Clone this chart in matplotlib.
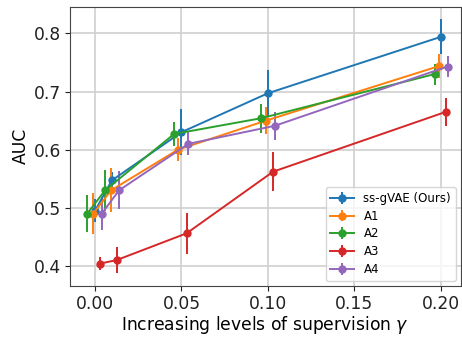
import matplotlib
matplotlib.use("Agg")
import matplotlib.pyplot as plt

labels = ["ss-gVAE (Ours)", "A1", "A2", "A3", "A4"]
colors = ["#1f77b4", "#ff7f0e", "#2ca02c", "#d62728", "#9467bd"]

x_blue = [0.0, 0.0097, 0.050, 0.100, 0.200]
y_blue = [0.495, 0.547, 0.630, 0.697, 0.794]
e_blue = [0.020, 0.015, 0.040, 0.040, 0.030]

x_orange = [-0.001, 0.0093, 0.048, 0.099, 0.1993]
y_orange = [0.490, 0.530, 0.600, 0.650, 0.744]
e_orange = [0.035, 0.038, 0.020, 0.023, 0.020]

x_green = [-0.0045, 0.0058, 0.0458, 0.096, 0.1965]
y_green = [0.490, 0.530, 0.627, 0.654, 0.730]
e_green = [0.032, 0.035, 0.021, 0.025, 0.018]

x_red = [0.003, 0.0126, 0.053, 0.103, 0.203]
y_red = [0.404, 0.410, 0.456, 0.562, 0.665]
e_red = [0.012, 0.023, 0.035, 0.034, 0.024]

x_purple = [0.0039, 0.0139, 0.054, 0.104, 0.204]
y_purple = [0.490, 0.530, 0.610, 0.641, 0.743]
e_purple = [0.028, 0.033, 0.020, 0.024, 0.018]

xs = [x_blue, x_orange, x_green, x_red, x_purple]
ys = [y_blue, y_orange, y_green, y_red, y_purple]
es = [e_blue, e_orange, e_green, e_red, e_purple]

fig = plt.figure(figsize=(4.62, 3.37), dpi=100)
ax = fig.add_axes([70/462, 1-285.6/337, 390.5/462, (285.6-6.7)/337])

for x, y, e, lab, c in zip(xs, ys, es, labels, colors):
    ax.errorbar(x, y, yerr=e, marker="o", markersize=5, color=c, lw=1.4,
                elinewidth=1.4, label=lab)

ax.set_xlim(-0.0145, 0.2115)
ax.set_ylim(0.366, 0.846)
ax.set_xticks([0.0, 0.05, 0.10, 0.15, 0.20])
ax.set_yticks([0.4, 0.5, 0.6, 0.7, 0.8])
ax.grid(True, color="#d0d0d0", lw=1.2)
ax.set_axisbelow(True)
for s in ax.spines.values():
    s.set_color("#444444")
ax.tick_params(labelsize=12.3, colors="#222222", length=3.5, pad=3)
ax.set_xlabel("Increasing levels of supervision $\\gamma$", fontsize=12.3, labelpad=1)
ax.set_ylabel("AUC", fontsize=12.3, labelpad=3)
ax.legend(loc="lower right", fontsize=8.5, labelspacing=0.41, borderaxespad=0.4)

fig.savefig("out.png", dpi=100)
